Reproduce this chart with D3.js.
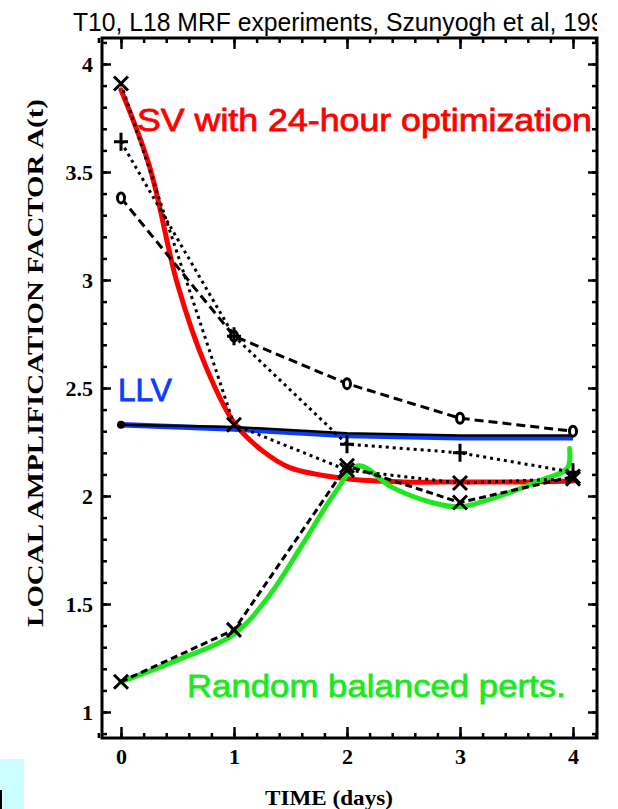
<!DOCTYPE html>
<html><head><meta charset="utf-8">
<script src="https://cdn.jsdelivr.net/npm/d3@7"></script>
<style>body{margin:0;background:#fff}svg{display:block}</style>
</head><body>
<svg id="c" width="618" height="809"></svg>
<script>
// ---------------- data ----------------
const days = [0, 1, 2, 3, 4];
const svXVals    = [3.91, 2.33, 2.12, 2.06, 2.08];   // dotted, X markers
const svPlusVals = [3.64, 2.74, 2.24, 2.20, 2.11];   // dotted, + markers
const svOVals    = [3.38, 2.74, 2.52, 2.36, 2.30];   // dashed, o markers
const llvBlackVals = [2.33, 2.32, 2.29, 2.28, 2.28]; // solid, dot marker
const randomXVals  = [1.14, 1.38, 2.14, 1.97, 2.09]; // dashed, X markers

const redDays  = [0, 0.25, 0.5, 0.75, 1, 1.25, 1.5, 2, 2.5, 3, 3.5, 4];
const redVals  = [3.88, 3.53, 2.98, 2.60, 2.34, 2.21, 2.13, 2.08, 2.065, 2.065, 2.065, 2.07];
const blueDays = [0, 1, 2, 3, 4];
const blueVals = [2.33, 2.31, 2.28, 2.27, 2.27];
const greenDays = [0, 0.5, 1, 1.3, 1.6, 1.9, 2.1, 2.4, 2.75, 3, 3.35, 3.7, 3.95, 3.97];
const greenVals = [1.14, 1.24, 1.36, 1.53, 1.77, 2.02, 2.14, 2.04, 1.97, 1.95, 2.0, 2.07, 2.13, 2.22];

const xTicks = [0, 1, 2, 3, 4];
const yTicks = [1, 1.5, 2, 2.5, 3, 3.5, 4];
const xMinor = d3.range(-0.2, 4.21, 0.2).map(v => +v.toFixed(2));
const yMinor = d3.range(0.9, 4.11, 0.1).map(v => +v.toFixed(2));

const titleText = "T10, L18 MRF experiments, Szunyogh et al, 1997";
const svLabel = "SV with 24-hour optimization";
const llvLabel = "LLV";
const randLabel = "Random balanced perts.";
const yTitle = "LOCAL AMPLIFICATION FACTOR A(t)";
const xTitle = "TIME (days)";

// ---------------- layout ----------------
const svg = d3.select("#c");
const frame = {l: 102, r: 597, t: 38, b: 738};
const x = d3.scaleLinear().domain([0, 4]).range([121, 573]);
const y = d3.scaleLinear().domain([1, 4]).range([712, 64]);

const RED = "#ff0000", BLUE = "#0a3cff", GREEN = "#1ee81e";

svg.append("defs").append("clipPath").attr("id", "tclip")
  .append("rect").attr("x", 0).attr("y", 0).attr("width", frame.r).attr("height", 809);

// cyan box bottom-left
svg.append("rect").attr("x", 0).attr("y", 759).attr("width", 24).attr("height", 50).attr("fill", "#ccffff");
svg.append("rect").attr("x", 0).attr("y", 790).attr("width", 2).attr("height", 19).attr("fill", "#000");

function fit(sel, target) {
  const w = sel.node().getComputedTextLength();
  return target / w;
}

// title
const tg = svg.append("g").attr("clip-path", "url(#tclip)");
const tt = tg.append("text")
  .attr("font-family", "Liberation Sans, Arial, sans-serif").attr("font-size", 25)
  .attr("fill", "#000").text("T10, L18 MRF experiments, Szunyogh et al, 19");
const ts = fit(tt, 518);
tt.text(titleText).attr("transform", `translate(73,31) scale(${ts},1)`);

// axes
const tickStyle = g => { g.select(".domain").remove(); g.selectAll("line").attr("stroke", "#000").attr("stroke-width", 2.5); };
const lblStyle = g => g.selectAll("text").attr("font-family", "Liberation Serif, Times New Roman, serif")
  .attr("font-weight", "bold").attr("font-size", 22).attr("fill", "#000");

svg.append("g").attr("transform", `translate(0,${frame.b})`)
  .call(d3.axisBottom(x).tickValues(xMinor).tickSize(-5).tickFormat("")).call(tickStyle);
svg.append("g").attr("transform", `translate(0,${frame.b})`)
  .call(d3.axisBottom(x).tickValues(xTicks).tickSize(-11).tickPadding(10).tickFormat(d3.format("d")))
  .call(tickStyle).call(lblStyle);
svg.append("g").attr("transform", `translate(0,${frame.t})`)
  .call(d3.axisTop(x).tickValues(xMinor).tickSize(-5).tickFormat("")).call(tickStyle);
svg.append("g").attr("transform", `translate(0,${frame.t})`)
  .call(d3.axisTop(x).tickValues(xTicks).tickSize(-11).tickFormat("")).call(tickStyle);

svg.append("g").attr("transform", `translate(${frame.l},0)`)
  .call(d3.axisLeft(y).tickValues(yMinor).tickSize(-5).tickFormat("")).call(tickStyle);
svg.append("g").attr("transform", `translate(${frame.l},0)`)
  .call(d3.axisLeft(y).tickValues(yTicks).tickSize(-9).tickPadding(9).tickFormat(d => String(d)))
  .call(tickStyle).call(lblStyle);
svg.append("g").attr("transform", `translate(${frame.r},0)`)
  .call(d3.axisRight(y).tickValues(yMinor).tickSize(-5).tickFormat("")).call(tickStyle);
svg.append("g").attr("transform", `translate(${frame.r},0)`)
  .call(d3.axisRight(y).tickValues(yTicks).tickSize(-9).tickFormat("")).call(tickStyle);

// frame
svg.append("rect").attr("x", frame.l).attr("y", frame.t)
  .attr("width", frame.r - frame.l).attr("height", frame.b - frame.t)
  .attr("fill", "none").attr("stroke", "#000").attr("stroke-width", 3);

// axis titles
const yt = svg.append("text").attr("font-family", "Liberation Serif, Times New Roman, serif")
  .attr("font-weight", "bold").attr("font-size", 23).attr("text-anchor", "middle").text(yTitle);
const ys = fit(yt, 528);
yt.attr("transform", `translate(43,363) rotate(-90) scale(${ys},1)`);
const xt = svg.append("text").attr("font-family", "Liberation Serif, Times New Roman, serif")
  .attr("font-weight", "bold").attr("font-size", 22).attr("text-anchor", "middle").text(xTitle);
const xs = fit(xt, 128);
xt.attr("transform", `translate(329,805) scale(${xs},1)`);

// colored curves
const lineXY = (xs_, ys_, curve) => d3.line().x((d, i) => x(xs_[i])).y((d, i) => y(ys_[i])).curve(curve)(xs_);
svg.append("path").attr("d", lineXY(blueDays, blueVals, d3.curveLinear))
  .attr("fill", "none").attr("stroke", BLUE).attr("stroke-width", 5.5);
svg.append("path").attr("d", lineXY(redDays, redVals, d3.curveCatmullRom))
  .attr("fill", "none").attr("stroke", RED).attr("stroke-width", 5).attr("stroke-linecap", "round");
svg.append("path").attr("d", lineXY(greenDays, greenVals, d3.curveCatmullRom))
  .attr("fill", "none").attr("stroke", GREEN).attr("stroke-width", 5).attr("stroke-linecap", "round");

// black series
const blackLine = (vals, dash, w) => svg.append("path").attr("d", lineXY(days, vals, d3.curveLinear))
  .attr("fill", "none").attr("stroke", "#000").attr("stroke-width", w)
  .attr("stroke-dasharray", dash);
blackLine(svXVals, "3,4", 3);
blackLine(svPlusVals, "3,4", 3);
blackLine(svOVals, "9,5", 3);
blackLine(llvBlackVals, null, 2.5);
blackLine(randomXVals, "7,4", 3);

// markers
const mk = svg.append("g").attr("stroke", "#000").attr("stroke-width", 3).attr("fill", "none");
function xMark(vals) {
  vals.forEach((v, i) => {
    const cx = x(days[i]), cy = y(v), s = 7;
    mk.append("path").attr("d", `M${cx - s},${cy - s}L${cx + s},${cy + s}M${cx - s},${cy + s}L${cx + s},${cy - s}`);
  });
}
function plusMark(vals) {
  vals.forEach((v, i) => {
    const cx = x(days[i]), cy = y(v);
    mk.append("path").attr("d", `M${cx - 7},${cy}L${cx + 7},${cy}M${cx},${cy - 9}L${cx},${cy + 9}`);
  });
}
function oMark(vals) {
  vals.forEach((v, i) => {
    mk.append("ellipse").attr("cx", x(days[i])).attr("cy", y(v)).attr("rx", 3.5).attr("ry", 5).attr("fill", "#fff");
  });
}
oMark(svOVals);
plusMark(svPlusVals);
xMark(svXVals);
xMark(randomXVals);
mk.append("circle").attr("cx", x(days[0])).attr("cy", y(llvBlackVals[0])).attr("r", 2.5).attr("fill", "#000");

// annotations
function label(txt, color, x0, base, width) {
  const t = svg.append("text").attr("font-family", "Liberation Sans, Arial, sans-serif")
    .attr("font-size", 32).attr("fill", color).attr("stroke", color).attr("stroke-width", 0.8).text(txt);
  const s = fit(t, width);
  t.attr("transform", `translate(${x0},${base}) scale(${s},1)`);
}
label(svLabel, RED, 137, 131, 455);
label(llvLabel, BLUE, 118, 401, 54);
label(randLabel, GREEN, 187, 697, 379);
</script>
</body></html>
